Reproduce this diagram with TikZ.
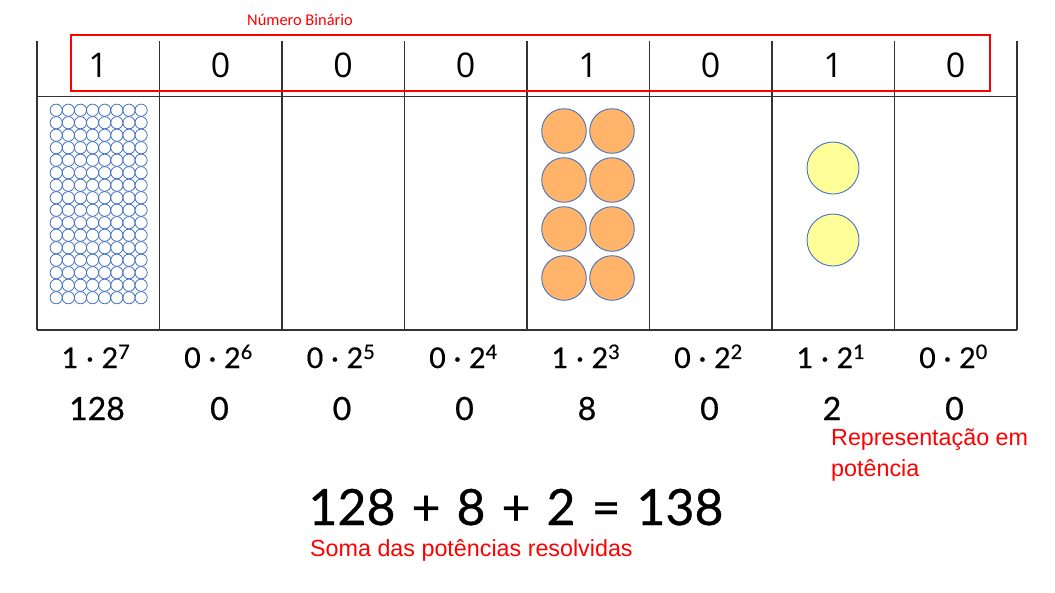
\documentclass[tikz,border=0pt]{standalone}
\usepackage{fontspec}
\setmainfont{Lato}[FakeBold=0.6]
\newfontfamily\bitfont{Open Sans}
\newfontfamily\notefont{Liberation Sans}
\newfontfamily\smallnotefont{Carlito}
\usetikzlibrary{positioning}

\definecolor{noteRed}{RGB}{255,0,0}
\definecolor{ballBlue}{RGB}{68,114,196}
\definecolor{ballOrange}{RGB}{255,180,105}
\definecolor{ballYellow}{RGB}{255,255,153}

\newcommand{\gap}{\hspace{8pt}}
\newcommand{\biggap}{\hspace{16pt}}

\begin{document}
\begin{tikzpicture}[x=1pt, y=-1pt,
    bit/.style={font=\bitfont\fontsize{34}{40}\selectfont, inner sep=0pt, anchor=base},
    power/.style={font=\fontsize{28.5}{34}\selectfont, inner sep=0pt, anchor=base},
    value/.style={font=\fontsize{32}{38}\selectfont, inner sep=0pt, anchor=base},
    note/.style={text=noteRed, font=\notefont\fontsize{23.3}{28}\selectfont, inner sep=0pt, anchor=base west},
    grid line/.style={line width=1.2pt, black!80},
    tiny ball/.style={draw=ballBlue, line width=0.8pt},
    big ball/.style={draw=ballBlue, line width=0.9pt}]
  \useasboundingbox (0,0) rectangle (1055,592);

  % Table
  \foreach \i in {0,...,8}
    \draw[grid line] ({37+122.5*\i},41) -- ({37+122.5*\i},330);
  \draw[grid line] (37,96.5) -- (1017,96.5);
  \draw[grid line] (37,330) -- (1017,330);

  % Bits, powers and values
  \foreach \b/\v [count=\k from 0] in {1/128,0/0,0/0,0/0,1/8,0/0,1/2,0/0} {
    \pgfmathtruncatemacro{\e}{7-\k}
    \node[bit] (bit\k) at ({98+122.5*\k},77) {\b};
    \node[power] (pow\k) at ({96+122.5*\k},368) {\b\gap·\gap2\textsuperscript{\e}};
    \node[value] (val\k) at ({97+122.5*\k},420) {\v};
  }

  % Red frame round the binary number
  \draw[noteRed, line width=2pt] (70.7,34.7) rectangle (990,90.7);
  \node[text=noteRed, font=\smallnotefont\fontsize{16.4}{20}\selectfont, inner sep=0pt, anchor=base west] (binlabel) at (247,25) {Número Binário};

  % 128 small balls
  \foreach \r in {0,...,15}
    \foreach \c in {0,...,7}
      \draw[tiny ball] ({56.2+12.13*\c},{110.2+12.5*\r}) circle (6.1);

  % 8 orange balls
  \foreach \r in {0,...,3}
    \foreach \c in {0,1}
      \draw[big ball, fill=ballOrange] ({564+48*\c},{131+49*\r}) circle (22.3);

  % 2 yellow balls
  \foreach \r in {0,1}
    \draw[big ball, fill=ballYellow] (833,{168+72*\r}) circle (26);

  % Notes
  \node[note] (powlabel) at (831,445) {Representação em};
  \node[note] (powlabel2) at (831,476) {potência};

  \node[font=\fontsize{50}{58}\selectfont, inner sep=0pt, anchor=base] (sum) at (516,525)
    {128\biggap+\biggap8\biggap+\biggap2\biggap=\biggap138};
  \node[note] (sumlabel) at (310,556) {Soma das potências resolvidas};
\end{tikzpicture}
\end{document}
